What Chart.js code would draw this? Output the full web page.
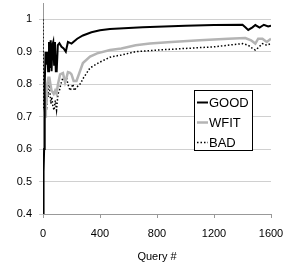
<!DOCTYPE html>
<html><head><meta charset="utf-8">
<script src="https://cdn.jsdelivr.net/npm/chart.js@4/dist/chart.umd.min.js"></script>
<style>html,body{margin:0;padding:0;background:#fff}#wrap{width:284px;height:267px}</style>
</head><body><div id="wrap"><canvas id="c" width="284" height="267"></canvas></div>
<script>
const seriesNames = ["GOOD", "WFIT", "BAD"];
const xTicks = [0, 400, 800, 1200, 1600];
const yTicks = [0.4, 0.5, 0.6, 0.7, 0.8, 0.9, 1.0];

const goodQ = [0,4,8,12,18,24,30,36,42,48,54,60,66,72,78,84,90,96,104,115,130,145,160,175,200,240,280,340,400,470,600,700,800,1000,1200,1400,1420,1440,1470,1490,1520,1550,1580,1600];
const goodV = [0.40,0.53,0.60,0.80,0.90,0.86,0.90,0.84,0.93,0.85,0.935,0.84,0.92,0.93,0.86,0.93,0.84,0.84,0.92,0.926,0.915,0.91,0.90,0.93,0.925,0.94,0.95,0.96,0.966,0.97,0.973,0.975,0.977,0.98,0.982,0.983,0.975,0.967,0.975,0.982,0.974,0.983,0.978,0.98];

const wfitQ = [0,3,6,10,15,20,25,30,38,45,52,60,75,85,95,105,120,140,155,165,175,190,200,215,235,280,330,380,470,550,650,750,900,1100,1300,1420,1460,1490,1510,1540,1570,1600];
const wfitV = [0.60,0.62,0.68,0.72,0.70,0.76,0.74,0.80,0.82,0.82,0.80,0.78,0.77,0.78,0.77,0.80,0.83,0.834,0.806,0.82,0.837,0.835,0.83,0.81,0.81,0.865,0.885,0.895,0.905,0.91,0.92,0.925,0.93,0.935,0.94,0.942,0.935,0.925,0.94,0.94,0.93,0.94];

const badQ = [0,3,6,10,15,20,25,30,36,42,48,55,62,70,78,86,95,105,115,125,140,155,165,175,190,200,210,220,235,260,285,330,400,470,550,650,800,1000,1200,1400,1440,1470,1490,1510,1540,1570,1600];
const badV = [1.0,0.75,0.68,0.73,0.70,0.75,0.72,0.78,0.76,0.82,0.78,0.74,0.76,0.73,0.72,0.75,0.72,0.77,0.78,0.80,0.82,0.81,0.82,0.80,0.78,0.79,0.80,0.78,0.79,0.80,0.82,0.85,0.868,0.883,0.89,0.90,0.905,0.91,0.915,0.925,0.92,0.91,0.905,0.912,0.925,0.92,0.925];

const pts = (q, v) => q.map((x, i) => ({x: x, y: v[i]}));

const legendPlugin = {
  id: 'boxLegend',
  afterDraw(chart) {
    const ctx = chart.ctx;
    const x0 = 194, y0 = 90, w = 58, h = 60;
    ctx.save();
    ctx.fillStyle = '#fff';
    ctx.fillRect(x0, y0, w, h);
    ctx.strokeStyle = '#000';
    ctx.lineWidth = 1;
    ctx.strokeRect(x0 + 0.5, y0 + 0.5, w, h);
    ctx.font = '13px "Liberation Sans", Arial, sans-serif';
    ctx.textBaseline = 'middle';
    chart.data.datasets.forEach((ds, i) => {
      const yy = y0 + 12.5 + i * 20;
      ctx.beginPath();
      ctx.strokeStyle = ds.borderColor;
      ctx.lineWidth = ds.borderWidth;
      ctx.setLineDash(ds.borderDash || []);
      ctx.moveTo(x0 + 3, yy);
      ctx.lineTo(x0 + 14, yy);
      ctx.stroke();
      ctx.setLineDash([]);
      ctx.fillStyle = '#000';
      ctx.fillText(ds.label, x0 + 15, yy + 0.5);
    });
    ctx.restore();
  }
};

new Chart(document.getElementById('c'), {
  type: 'line',
  data: {
    datasets: [
      {label: seriesNames[0], data: pts(goodQ, goodV), borderColor: '#000', borderWidth: 2, pointRadius: 0, tension: 0},
      {label: seriesNames[1], data: pts(wfitQ, wfitV), borderColor: '#b4b4b4', borderWidth: 2.5, pointRadius: 0, tension: 0},
      {label: seriesNames[2], data: pts(badQ, badV), borderColor: '#000', borderWidth: 1.5, borderDash: [1.5, 2], pointRadius: 0, tension: 0}
    ]
  },
  options: {
    responsive: false,
    animation: false,
    devicePixelRatio: 1,
    layout: {padding: {top: 3, right: 13, left: 0, bottom: 0}},
    plugins: {legend: {display: false}, tooltip: {enabled: false}},
    scales: {
      x: {
        type: 'linear', min: 0, max: 1600,
        afterBuildTicks: s => { s.ticks = xTicks.map(v => ({value: v})); },
        afterFit: s => { s.height = 53; s.paddingLeft = 0; s.paddingRight = 0; },
        ticks: {font: {family: '"Liberation Sans", Arial', size: 11}, color: '#000', padding: 9, maxRotation: 0,
          callback: v => String(v)},
        grid: {drawOnChartArea: false, drawTicks: true, tickLength: 4, color: '#999'},
        border: {color: '#999'},
        title: {display: true, text: 'Query #', font: {family: '"Liberation Sans", Arial', size: 11}, color: '#000', padding: {top: 0, bottom: 3}}
      },
      y: {
        min: 0.4, max: 1.05,
        afterBuildTicks: s => { s.ticks = yTicks.map(v => ({value: v})); },
        afterFit: s => { s.width = 43; s.paddingTop = 0; s.paddingBottom = 0; },
        ticks: {font: {family: '"Liberation Sans", Arial', size: 11}, color: '#000', padding: 7,
          callback: v => String(Number(v.toFixed(2)))},
        grid: {color: '#d0d0d0', drawTicks: true, tickLength: 4},
        border: {color: '#999'}
      }
    }
  },
  plugins: [legendPlugin]
});
</script></body></html>
